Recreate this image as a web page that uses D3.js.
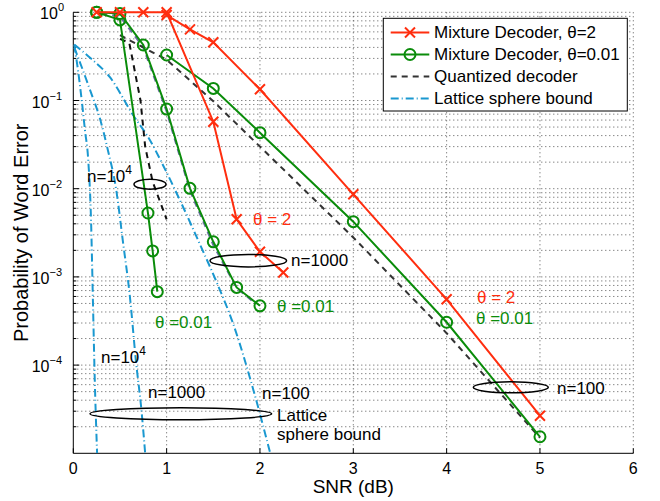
<!DOCTYPE html>
<html>
<head>
<meta charset="utf-8">
<script src="https://cdn.jsdelivr.net/npm/d3@7"></script>
<style>
  body { margin: 0; background: #fff; }
  svg { font-family: "Liberation Sans", Arial, Helvetica, sans-serif; }
</style>
</head>
<body>
<div id="chart"></div>
<script>
// ---- data ----
const snrTicks = [0, 1, 2, 3, 4, 5, 6];
const decadeTicks = [0, -1, -2, -3, -4];

// mixture decoder, theta = 2
const mixT2_n1000 = [[0.25, 1], [0.5, 1], [0.75, 1], [1, 1], [1.5, 0.0575], [1.75, 0.0045], [2, 0.00193], [2.25, 0.00112]];
const mixT2_n100 = [[1, 0.93], [1.25, 0.64], [1.5, 0.457], [2, 0.134], [3, 0.00864], [4, 0.000557], [5, 2.67e-5]];

// mixture decoder, theta = 0.01
const mixT001_n1e4 = [[0.25, 1], [0.5, 0.82], [0.8, 0.0053], [0.85, 0.00197], [0.9, 0.00068]];
const mixT001_n1000 = [[0.25, 1], [0.5, 0.97], [0.75, 0.426], [1, 0.08], [1.25, 0.0101], [1.5, 0.0025], [1.75, 0.00076], [2, 0.00047]];
const mixT001_n100 = [[1, 0.328], [1.5, 0.137], [2, 0.0432], [3, 0.00423], [4, 0.000306], [5, 1.54e-5]];

// quantized decoder
const quant_n1e4 = [[0.5, 0.5], [0.6, 0.45], [0.72, 0.1], [0.77, 0.03], [0.85, 0.012], [1, 0.0045]];
const quant_n1000 = [[0.3, 0.97], [0.5, 0.9], [0.75, 0.4], [1, 0.075], [1.25, 0.0095], [1.5, 0.0023], [1.75, 0.00075], [1.95, 0.0005]];
const quant_n100 = [[0.5, 0.55], [1, 0.29], [1.5, 0.098], [2, 0.03], [3, 0.0028], [4, 0.00023], [5, 1.5e-5]];

// lattice sphere bound
const lattice_n1e4 = [[0.01, 0.43], [0.05, 0.222], [0.09, 0.101], [0.125, 0.046], [0.16, 0.0211], [0.19, 0.0044], [0.21, 5.5e-4], [0.23, 6.8e-5], [0.255, 1e-5]];
const lattice_n1000 = [[0.01, 0.40], [0.07, 0.273], [0.18, 0.131], [0.29, 0.06], [0.37, 0.0275], [0.46, 0.0097], [0.53, 0.0026], [0.61, 5.5e-4], [0.67, 1.14e-4], [0.73, 3.1e-5], [0.77, 1e-5]];
const lattice_n100 = [[0.01, 0.43], [0.18, 0.305], [0.39, 0.185], [0.64, 0.0685], [0.82, 0.0357], [0.96, 0.0186], [1.14, 0.0075], [1.36, 0.0023], [1.54, 8.5e-4], [1.71, 3.0e-4], [1.93, 5.2e-5], [2.11, 1e-5]];

const legendLabels = ["Mixture Decoder, \u03b8=2", "Mixture Decoder, \u03b8=0.01", "Quantized decoder", "Lattice sphere bound"];

// ---- layout ----
const width = 660, height = 501;
const margin = { left: 73.3, right: 26.7, top: 12.3, bottom: 47.7 };

const RED = "#ff2e0f", GREEN = "#0a8c0a", DARK = "#333333", SLATE = "#6b6fa6", CYAN = "#1a98d0";

const x = d3.scaleLinear().domain([0, 6]).range([margin.left, width - margin.right]);
const y = d3.scaleLog().domain([1e-5, 1]).range([height - margin.bottom, margin.top]);

const svg = d3.select("#chart").append("svg")
    .attr("width", width)
    .attr("height", height);

svg.append("defs").append("clipPath").attr("id", "clip")
    .append("rect")
    .attr("x", margin.left).attr("y", margin.top - 8)
    .attr("width", x(6) - margin.left).attr("height", y(1e-5) - margin.top + 8);

// grid
const grid = svg.append("g").attr("stroke", "#555").attr("stroke-dasharray", "1,3").attr("stroke-width", 1);
snrTicks.slice(1).forEach(v => {
    grid.append("line").attr("x1", x(v)).attr("x2", x(v)).attr("y1", y(1e-5)).attr("y2", y(1));
});
const minorVals = [];
for (let d = -5; d < 0; d++) for (let m = 2; m <= 9; m++) minorVals.push(m * Math.pow(10, d));
decadeTicks.concat(minorVals.map(v => Math.log10(v))).forEach(l => {
    const v = Math.pow(10, l);
    grid.append("line").attr("x1", x(0)).attr("x2", x(6)).attr("y1", y(v)).attr("y2", y(v));
});

// axes
const axes = svg.append("g").attr("stroke", "#000").attr("stroke-width", 1);
axes.append("line").attr("x1", x(0)).attr("x2", x(0)).attr("y1", y(1)).attr("y2", y(1e-5));
axes.append("line").attr("x1", x(0)).attr("x2", x(6)).attr("y1", y(1e-5)).attr("y2", y(1e-5));
snrTicks.forEach(v => {
    axes.append("line").attr("x1", x(v)).attr("x2", x(v)).attr("y1", y(1e-5)).attr("y2", y(1e-5) - 5);
});
decadeTicks.forEach(l => {
    axes.append("line").attr("x1", x(0)).attr("x2", x(0) + 6).attr("y1", y(Math.pow(10, l))).attr("y2", y(Math.pow(10, l)));
});
minorVals.forEach(v => {
    axes.append("line").attr("x1", x(0)).attr("x2", x(0) + 3).attr("y1", y(v)).attr("y2", y(v));
});

// tick labels
svg.append("g").selectAll("text").data(snrTicks).join("text")
    .attr("x", d => x(d)).attr("y", y(1e-5) + 21)
    .attr("text-anchor", "middle").attr("font-size", 16)
    .text(d => d);

const yl = svg.append("g").selectAll("text").data(decadeTicks).join("text")
    .attr("x", d => d === 0 ? 64 : 62).attr("y", d => y(Math.pow(10, d)) + 7)
    .attr("text-anchor", "end").attr("font-size", 16);
yl.append("tspan").text("10");
yl.append("tspan").attr("dy", -8).attr("font-size", 11).text(d => d === 0 ? "0" : "\u2212" + (-d));

// axis titles
svg.append("text").attr("x", (x(0) + x(6)) / 2).attr("y", 493)
    .attr("text-anchor", "middle").attr("font-size", 19).text("SNR (dB)");
svg.append("text").attr("transform", `translate(28,${(y(1) + y(1e-5)) / 2}) rotate(-90)`)
    .attr("text-anchor", "middle").attr("font-size", 20).text("Probability of Word Error");

// curves
const plot = svg.append("g").attr("clip-path", "url(#clip)");
const line = d3.line().x(d => x(d[0])).y(d => y(d[1]));
const smooth = d3.line().x(d => x(d[0])).y(d => y(d[1])).curve(d3.curveMonotoneX);

function drawLine(data, color, dash, gen) {
    plot.append("path").datum(data)
        .attr("fill", "none").attr("stroke", color).attr("stroke-width", 2)
        .attr("stroke-dasharray", dash)
        .attr("d", gen || line);
}

[lattice_n1e4, lattice_n1000, lattice_n100].forEach(d => drawLine(d, CYAN, "8,3,1,3", smooth));
drawLine(quant_n1e4, "#111", "6,5");
drawLine(quant_n1000, SLATE, "6,5");
drawLine(quant_n100, DARK, "6,5");

function drawCircles(data) {
    plot.append("g").selectAll("circle").data(data).join("circle")
        .attr("cx", d => x(d[0])).attr("cy", d => y(d[1])).attr("r", 5.5)
        .attr("fill", "none").attr("stroke", GREEN).attr("stroke-width", 2);
}
function drawCrosses(data) {
    const g = plot.append("g").attr("stroke", RED).attr("stroke-width", 2);
    data.forEach(d => {
        const cx = x(d[0]), cy = y(d[1]), s = 5;
        g.append("path").attr("d", `M${cx - s},${cy - s}L${cx + s},${cy + s}M${cx - s},${cy + s}L${cx + s},${cy - s}`);
    });
}

[mixT001_n1e4, mixT001_n1000, mixT001_n100].forEach(d => { drawLine(d, GREEN, null); drawCircles(d); });
[mixT2_n1000, mixT2_n100].forEach(d => { drawLine(d, RED, null); drawCrosses(d); });

// annotations
const ann = svg.append("g").attr("font-size", 17);
function note(tx, ty, str, color, sup) {
    const t = ann.append("text").attr("x", tx).attr("y", ty).attr("fill", color || "#000");
    t.append("tspan").text(str);
    if (sup) t.append("tspan").attr("dy", -8).attr("font-size", 12).text(sup);
}
function ellipse(cx, cy, rx, ry) {
    ann.append("ellipse").attr("cx", cx).attr("cy", cy).attr("rx", rx).attr("ry", ry)
        .attr("fill", "none").attr("stroke", "#000").attr("stroke-width", 1.5);
}
note(87, 182, "n=10", null, "4");
ellipse(150, 184.3, 16, 5);
note(253, 225, "\u03b8 = 2", RED);
ellipse(248.3, 260.7, 38.3, 6.2);
note(291, 266, "n=1000");
note(155, 328, "\u03b8 =0.01", GREEN);
note(277, 312, "\u03b8 =0.01", GREEN);
note(477, 303, "\u03b8 = 2", RED);
note(476, 324, "\u03b8 =0.01", GREEN);
ellipse(510.8, 387.3, 37.5, 5.5);
note(557, 394, "n=100");
note(101, 363, "n=10", null, "4");
note(148, 398, "n=1000");
note(262, 399, "n=100");
ellipse(180.8, 413.8, 90.8, 6);
note(277, 421, "Lattice");
note(277, 440, "sphere bound");

// legend
const lg = svg.append("g");
lg.append("rect").attr("x", 383.3).attr("y", 18.3).attr("width", 244).attr("height", 92.7)
    .attr("fill", "#fff").attr("stroke", "#000").attr("stroke-width", 1);
const legendStyles = [
    { color: RED, dash: null, mark: "x" },
    { color: GREEN, dash: null, mark: "o" },
    { color: DARK, dash: "6,5", mark: null },
    { color: CYAN, dash: "8,3,1,3", mark: null }
];
legendLabels.forEach((lab, i) => {
    const by = 38 + i * 22, ly = by - 5.5;
    const st = legendStyles[i];
    lg.append("line").attr("x1", 390.7).attr("x2", 429.3).attr("y1", ly).attr("y2", ly)
        .attr("stroke", st.color).attr("stroke-width", 2).attr("stroke-dasharray", st.dash);
    if (st.mark === "x") {
        lg.append("path").attr("d", `M405,${ly - 5}L415,${ly + 5}M405,${ly + 5}L415,${ly - 5}`)
            .attr("stroke", st.color).attr("stroke-width", 2);
    } else if (st.mark === "o") {
        lg.append("circle").attr("cx", 410).attr("cy", ly).attr("r", 5.5)
            .attr("fill", "none").attr("stroke", st.color).attr("stroke-width", 2);
    }
    lg.append("text").attr("x", 434).attr("y", by).attr("font-size", 17).text(lab);
});
</script>
</body>
</html>
